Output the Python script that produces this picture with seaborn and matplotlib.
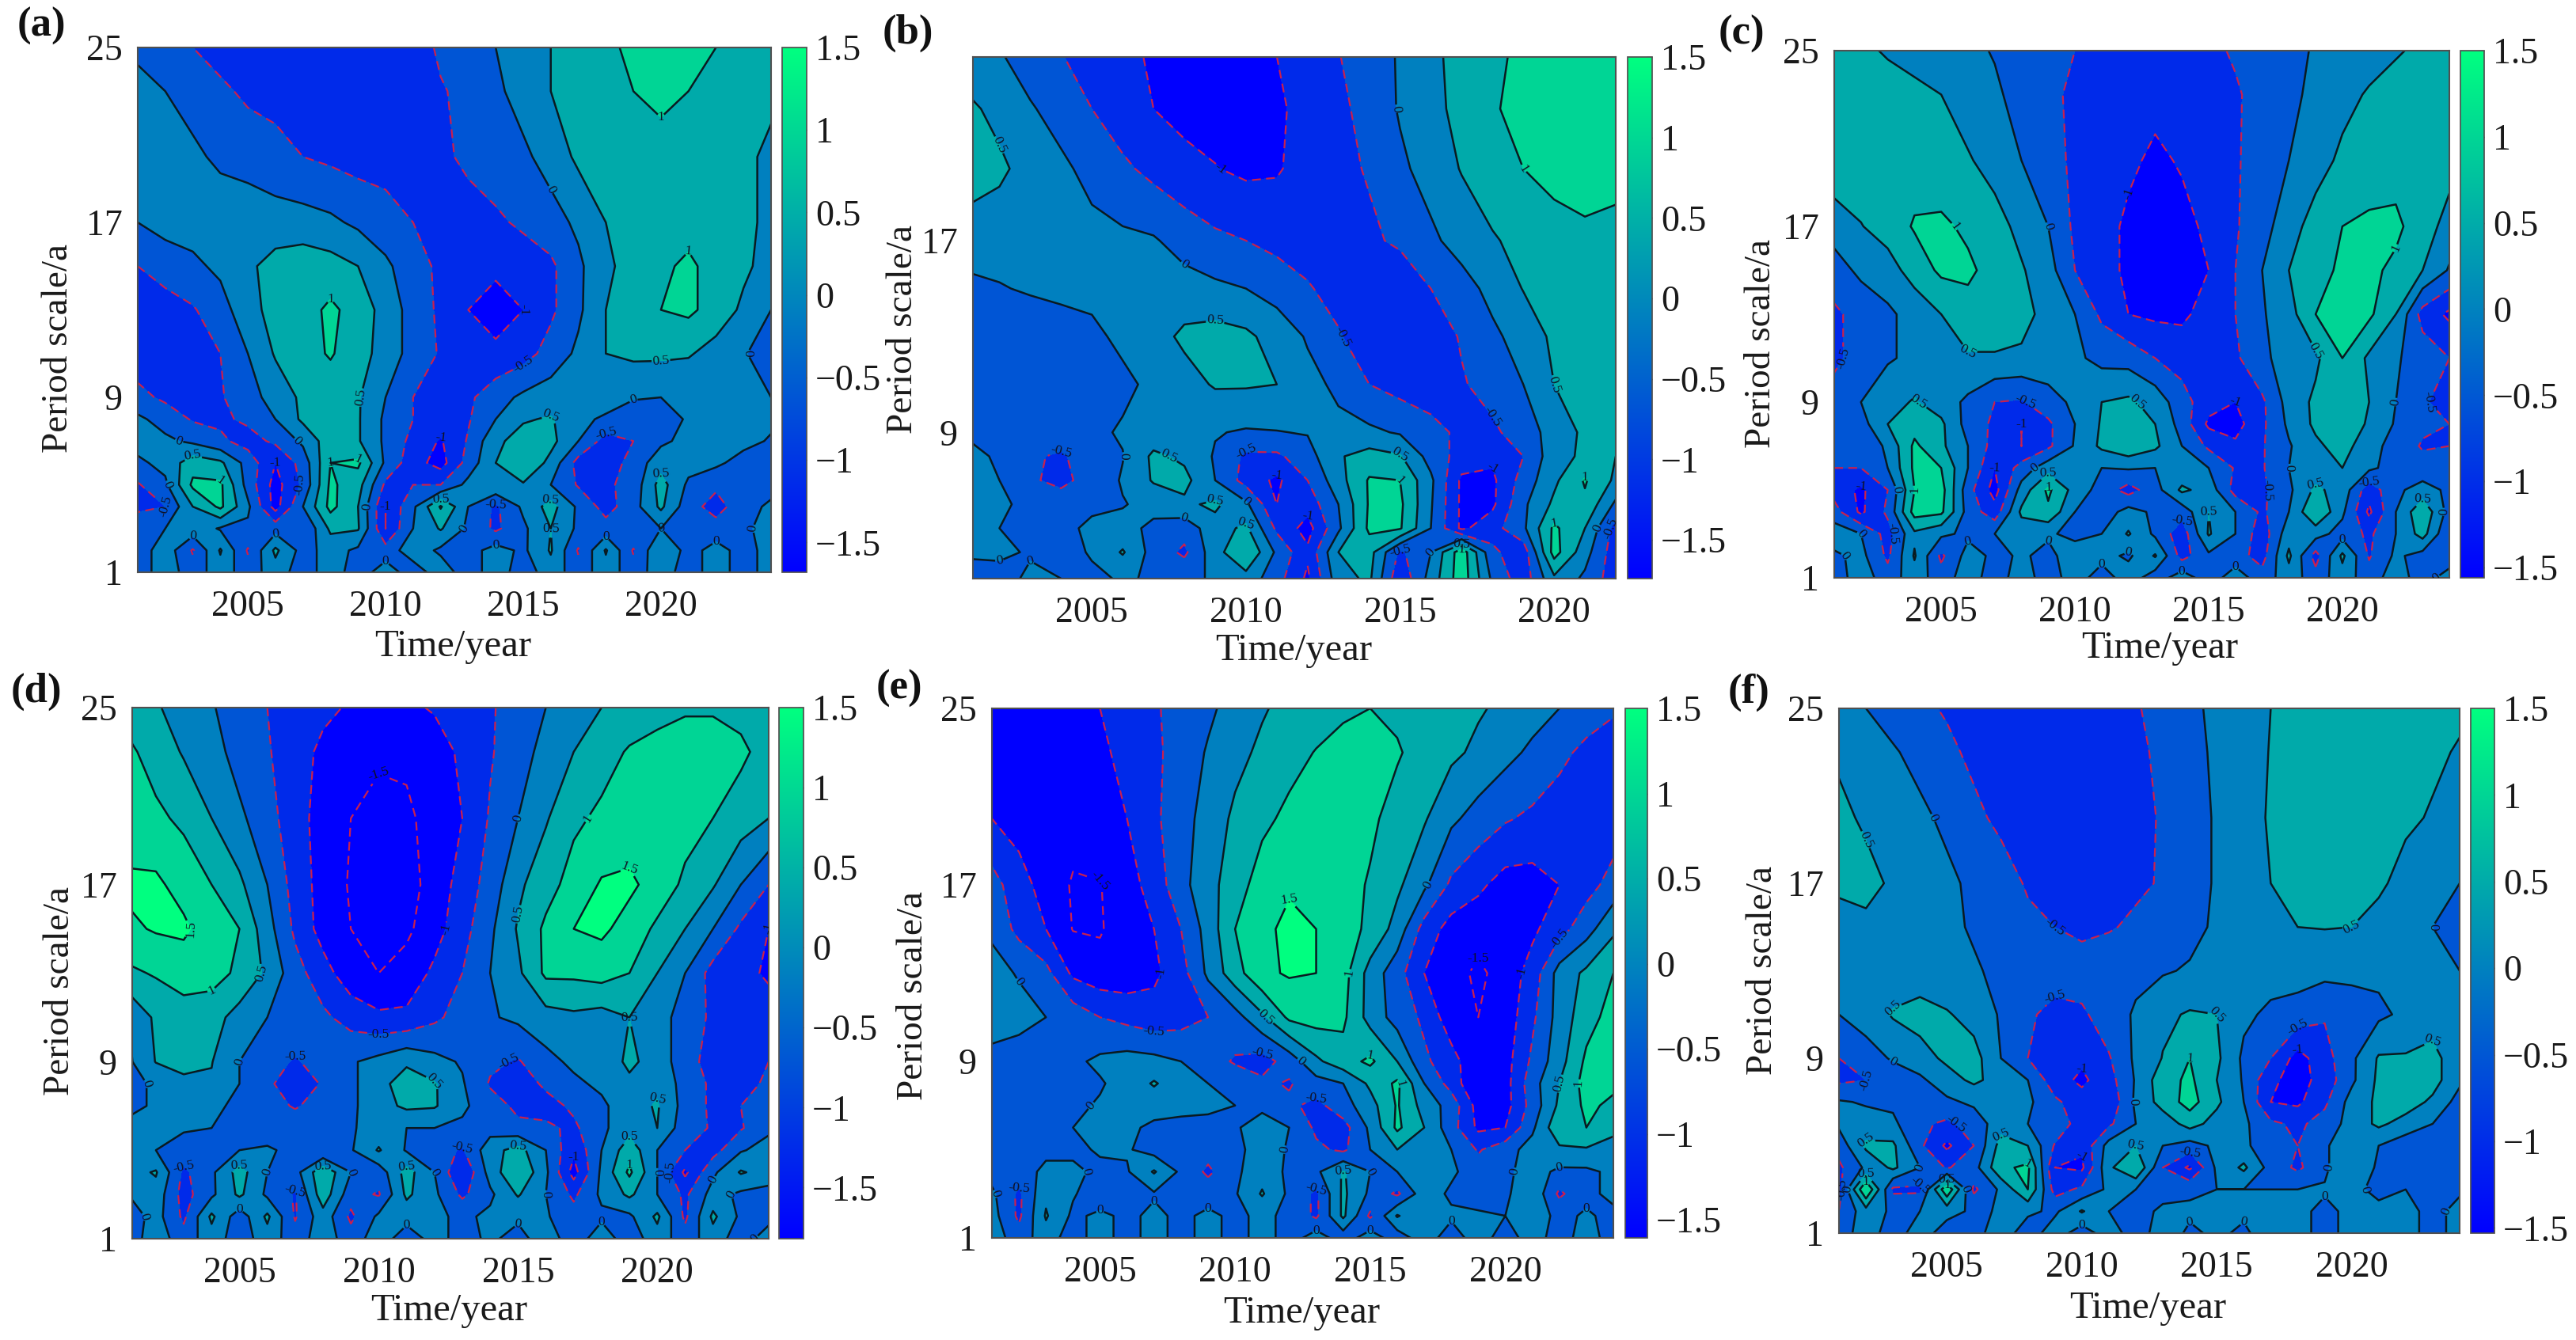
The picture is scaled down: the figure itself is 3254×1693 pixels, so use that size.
import numpy as np
import matplotlib
matplotlib.use("Agg")
import matplotlib.pyplot as plt
from matplotlib.cm import ScalarMappable
from matplotlib.colors import Normalize
import seaborn as sns

sns.set_theme(style="ticks")
plt.rcParams['font.family'] = ['Liberation Serif', 'DejaVu Serif']
plt.rcParams['axes.unicode_minus'] = True

W, H = 3255, 1693

years_full = list(range(2001, 2025))
years_b = list(range(2001, 2023))
periods_full = [1, 2, 3, 4, 5, 6, 7, 8, 9, 11, 13, 15, 17, 20, 23, 25]
periods_b = [2.9, 4, 5, 6, 7, 8, 9, 11, 13, 15, 17, 20, 22.5, 24.7]

# values in tenths, rows go from the smallest period up
grid_a = [
    [-3, 3, -3, 3, -3, 3, -3, 3, -3, 3, -3, 3, -3, 3, -3, 3, -3, 3, -3, 3, -3, 3, -3, 3],
    [-3, 3, -5.5, 5.5, -5.5, 6, -2, 2, -1, -3, 3, -1, -2, 2, -1, 5.5, -5.5, 5.5, -5.5, 5, -2, 2, -2, 2],
    [-2, 0, 3, -.5, -1, -2, -5, 6, 5.5, -10, 0, 5.5, -1, -6, -1, 5, -1, -3, 0, 0, -2, -3, -1, 2],
    [-6, -5, 5, 11, 1, -12, 0, 11.5, 5, -10, -1, 10.5, 0, -6, 1, 7, -1, -7, -2, 6, -3, -7, -2, 1],
    [-5.5, -1, 11, 11, -2, -12, -4, 11, 7, -6, -5, -5, 1.5, 4.5, 4.5, 0, -5.5, -6, -3, 7, -1, -4, -2, -2],
    [-1, 1.5, 8, 6, -2, -10, -3, 10, 11, -1, -8, -12, -3, 5, 9.5, 3.5, -7, -8, -3, 3, 2, 1, -2, -3],
    [2, 1, -1, -4, -7, -4, 1, 8, 5.5, -1, -6.5, -10.5, -4.5, 4, 7, 6.5, 0, -7, -5, -1, 1.5, 3, 1.5, -.5],
    [1, -2, -5.5, -6, -4, 0, 6, 7, 5.5, -1, -5, -7.5, -5.5, 0, 4.5, 5.5, 1.5, -1, -3.5, -2, .5, 2, 3, 1],
    [-3.5, -6, -7, -5.5, -2, 2, 6, 7, 5.5, 0, -5, -7, -6, -2, 1, 2.5, 3, 3, .5, 0, .5, 2, 1, 0],
    [-8, -8, -7, -5, 0, 5.5, 8, 10.5, 7, 3, -2, -5.5, -8, -9, -7, -3, 1, 5, 6, 6, 5.5, 3, .5, -3],
    [-8, -7, -5.5, -2, 3, 7, 8, 11, 8, 3, -2, -6, -10, -12, -10, -6, -1, 5, 8, 10, 11, 8, 4, 0],
    [-5, -3, -1, 1, 4, 7, 8, 7, 5, 1, -3, -6, -8, -9, -8, -6, -1, 4, 7, 9, 11, 8, 6, 3],
    [0, 2, 2, 3, 3, 2, 2, 1, -1, -3, -5, -6, -7, -6, -4, -2, 1, 5, 7, 8, 8, 8, 6, 4],
    [3, 2, 1, -1, -2, -3, -5, -6, -7, -7, -7, -6, -4, -2, -1, 2, 6, 8, 9, 8.5, 8, 7, 6, 4],
    [1.5, 0, -2, -4, -6, -7, -8, -8, -8, -8, -7.5, -5.5, -3.5, -1, 2, 5, 7, 8.5, 10, 11, 10, 9, 7, 6],
    [-1, -3, -5, -7, -8, -8, -8, -8, -8, -8, -8, -4, -3, 0, 3, 5, 7, 9, 11, 12, 12, 10, 8, 7],
]

grid_b = [
    [-3, -2, 1, 0, -1, .5, -.5, -1, .5, 3, -3, -11, 3, 6, -9, 2, 13, -1, -8, 4, -1, -8],
    [1, 1, -.5, -2, .5, 5.5, -2, -6, 3, 10, -1, -9, 5, 7, -6, 0, 13, -4, -8, 12, 2, -8],
    [1, 0, -2, -2, 1.5, 1.5, -1, -3, 3, 6, -6, -12, -1, 11, 10.5, 0, -11, -7, -1, 11, 5, -7],
    [2, 1, -1.5, -3, -1.5, -.3, 1.5, 4, 6, 1, -10, -8, 0, 10.5, 11, .5, -11, -11, -1, 6, 9, -1],
    [1.5, 0, -4.5, -6, -3.5, .5, 5.5, 6.5, 0, -7, -11, -5, 3, 10.5, 10, 1, -11, -11, -3, 4, 10.5, 4],
    [1, -.5, -4.5, -5.5, -3, -.2, 6, 4, -.5, -6, -6, -2, 4.5, 7, 5.5, -2, -7, -9, -5, 3, 6, 5],
    [-.5, -2, -4, -3, -1, .5, 2, 1.5, .3, -.5, -.2, .3, 1.2, 1, -.5, -3.5, -6, -6, -2.5, 2, 6, 6],
    [-3, -3.5, -4.5, -5, -3.5, -1, 1, 3, 5.5, 5.5, 5, 1.5, -1, -5, -7, -7.5, -5.5, -3, 0, 5, 6, 6],
    [-3.5, -3.5, -3, -2, -1, 1, 3, 6, 7, 6, 3, -.5, -4.5, -8, -8, -8, -4.5, -1, 2, 6, 7, 7],
    [-1, -.3, .5, 1, 1.2, 1.5, 2, 2, 1, 0, -2, -4.5, -7, -8.5, -9, -5, -2, 1.5, 5.2, 7, 8, 8],
    [2, 2, 2, 1.5, 1.5, 1, .5, -2, -4, -5, -6.5, -7.5, -8, -6, -4, -1, 2, 4.5, 6.5, 8, 9, 9],
    [8, 6, 3, 1, -1.5, -4, -6.5, -8.5, -9.8, -11, -10.5, -8, -6.5, -4.5, -1, 2, 5.3, 8, 10, 11.5, 12, 11],
    [6, 3.5, .5, -2, -5, -8, -10, -11.5, -12, -12, -11, -8, -6, -3.5, .5, 3.5, 6.5, 9.5, 11.5, 12, 12, 12],
    [2, .5, -2.5, -4.8, -7, -9, -10.5, -11, -11, -11, -10, -8, -5.2, -2.5, .5, 4, 6.5, 9, 11, 12, 12, 12],
]

grid_c = [
    [-3, 3, -3, 3, -3, 3, -3, 3, -3, 3, -3, 3, -3, 3, -3, 3, -3, 3, -3, 3, -3, 3, -3, 3],
    [-1, 1.5, -6, 5.5, -6, 2, -1, .5, -1, 2, 2, -1, 5.5, -7, -1, -3, -7, 6, -7, 6, -5.5, 1, -2, -4],
    [3, 0, -7, 4, 1, -1, 0, 2, .5, -1, 0, 5.5, -1, -8, 5.5, 0, -8, 3, 2, -2, -6, 0, 7, -5],
    [-3, -11, -4, 12, 11, -2, -8, 6, 9, 0, -3, 2, -1, -3, 5, 0, -6, 0, 10, 1, -11, 0, 9, -2],
    [-7, -11, -5, 10, 12, -3, -12, 2, 11, 3, -2, -7, -2, 6, 3, -7, -6, -1, 6, 3, -8, -1, 2, -1],
    [-5, -5, 0, 11, 10, 0, -10, -3, 3, 4.5, 0, .5, 0, 1, 0, -5.5, -5.5, 0, 2, 5, 1, -2, -3, -1],
    [-2.5, -4, 1, 11, 6, 0, -7, -10, -6, .5, 6, 9, 6, 0, -6, -9, -5.5, -.5, 4, 7, 2, -2, -5.5, -5],
    [-4.5, -2, 5, 8, 6, -2, -6, -10, -6, 0, 5.5, 10, 5, -2, -11, -12, -6, 1, 6, 10, 4, -.5, -4, -5],
    [-3, 0, 3, 5.5, 2.5, -1, -5, -5.5, -2, 1, 5, 6, 3, -3, -8, -10, -6, 2, 6, 10, 5, 0, -4, -8],
    [-6, -3, -.5, 1, 3, 4.5, 4.5, 4, 3, 1, -1.5, -2, -5, -7, -7, -6, -.5, 1, 4, 10, 4, .5, -2, -5],
    [-6, -3, -1, 2, 5, 8, 8, 7, 3, 0, -6, -10, -11, -11, -8, -5, -.5, 3, 10, 11, 11, 5, -7, -11],
    [-2, 1, 3, 7, 11, 11, 8, 5.5, 2, -5, -8, -11, -13, -12, -10, -5, 0, 5, 8, 11, 11, 9, 5, -.5],
    [2, 4.8, 7, 10.5, 11, 9, 7, 3.5, 0, -6, -8, -11, -12, -11.5, -9, -5.5, -2, 3, 7, 10, 11, 11, 7.5, 3],
    [9, 8, 8, 7.5, 6.5, 5.5, 3, 0, -3, -6, -8, -9, -11, -9.5, -7.5, -5.5, -3, 0, 3, 6, 7, 8, 7.5, 7],
    [8, 7.5, 7, 6, 5, 2.5, .7, -1.5, -3.8, -6, -8, -8.5, -8.5, -8.5, -7.5, -5.5, -3.5, -1, 1, 3.5, 5.5, 7, 7, 6.5],
    [7, 6, 4.5, 3.5, 2.5, 1, -.3, -2, -3.8, -5, -7, -8, -8, -7.5, -6, -4.5, -3, -1.5, .5, 2, 3, 4.5, 6, 6],
]

grid_d = [
    [-3, 3, -3, 3, -3, 3, -3, 3, -3, 3, -3, 2, -2, 1, -2, 3, -3, 3, -3, 3, -3, 3, -3, 3],
    [-3, 2, -6, 6, -3, 6, -5.5, 3, -6, 1, 2, 1, -1, 1, 1, .5, -3, -1, -1, 6, -6, 6, -1, -2],
    [0, 3, -7, -1, 6, -1, -5.5, 8, -3, -5.5, 6, 1, -6, -1, 5.5, 0, -6, 1, 6, 0, -6, 2, -1, -2],
    [3, 5.5, -6, -1, 7, 0, -2, 9, 0, -3, 7, 0, -10, 2, 10, 1, -12, 1, 11, 0, -11, -1, 5.5, 3],
    [1, 0, -2, -3, 0, .5, -1, -5, -.5, 5.5, -.5, -3, -5.5, 3, 7, 0, -9, 0, 8, 0, -5, -7, -.5, 2],
    [1, 1, .5, 0, -1, -2, -2, -1.5, -.5, 2, 0, 0, -1, -2, -4, -4, -6, -1, 3, 5, -3, -5.5, -5.5, -1],
    [-1, .5, 1.5, 1, -1, -3, -5.5, -3, -1, 3, 6, 5.5, 1, -3, -6, -7, -4, -1, 3, 5.5, -2, -6, -5, -1],
    [-2, 1, 3.5, 4.5, 0, -4, -8, -4.5, -1, 3, 8, 5.5, .5, -5.5, -8, -4, -1, 1, 4, 4, -2, -6, -7, -4],
    [-1, 5.2, 7, 5.2, 0, -3, -5.5, -3, -.5, 1.5, 4, 1.5, -.5, -4, -5.5, -1.5, 1, 2, 6, 3, -3, -7, -8, -5],
    [0, 6, 8, 7, 3, 0, -1, -4, -7, -9, -9, -6, -3, -.5, 1, 3, 4, 3, 5, 2, -2, -6, -7, -7],
    [9, 10.5, 12, 12, 9, 4, -3, -8, -13, -15, -13, -9, -5, 0, 4, 11, 11, 12, 10, 5, 0, -7, -8, -11],
    [14, 15.5, 16, 12, 10, 2, -6, -12, -15, -17, -16, -12, -7, -1, 5.5, 11, 15, 16, 13, 9, 5, 0, -6, -10],
    [16, 16, 13, 10, 6, 0, -7, -12, -15.5, -17, -17, -13, -8, -3, 4, 8, 12, 15.5, 16, 13, 9, 5.5, 0, -5],
    [12, 11, 9, 5, 1, -3, -8, -12, -15, -17, -16, -13, -10, -4.5, 0, 4.5, 9, 11, 12, 12.5, 12, 10, 7.5, 5],
    [11, 8, 4.5, 2, -2, -4.5, -8, -11, -13, -14, -14, -12.5, -9, -5.5, -2, 1.5, 5, 8, 10.5, 11.5, 12, 12, 11, 8],
    [8, 5.5, 3, .5, -3, -5, -7, -9, -10.5, -11, -11, -9.5, -8, -5.5, -3, 0, 3, 5, 7, 8.5, 9.5, 9.5, 8.5, 7],
]

grid_e = [
    [3, -3, 3, -3, 3, -3, 3, -3, 3, -3, 3, -3, 3, -3, 3, -3, 3, -3, 3, -3, 3, -3, 3, -3],
    [2, -6, 5.5, -1, 1, -1, 1, -1, 1, -1, 1, -1, -6, 6, -6, 5.5, 0, 1, 1, 0, 2, -1, .5, -1],
    [1, -6, 4, .5, -3, -1, -.5, -1, -2, -.5, 5.5, -1, -6, 6, -1, -6, 3, -1, -3, -1, 4, -6, -1, 1],
    [-2, -2, 1, 1, -1, -.5, 5.5, -1, -6, -1, 3, -1, -1, 5.5, 0, 0, 2, 1, -3, -1, 2, -1, -1, 1],
    [-3, -3, -1, -1, .5, .5, -2, -4, -3, -3, 5, -1, -4, -6, 0, 5, 3, 0, -5.5, -2, 2, 4, 4.5, 2],
    [-3, -3, -2, 0, 1, 1, -1, -2, -1.5, -.5, 2, 0, -6, -7, 1, 11, 5, -3, -11, -10, -1, 9, 10, 7],
    [-3, -3, -3, -1, .5, 2, 2, 2, 1, 0, -1, -4, -6.5, -2, 3, 10.5, 3, -2, -12, -12, -3, 6, 11, 9],
    [-2, -3, -3, -2.5, -.5, 2, 5.5, 2, 0, -2, -4, -5.5, -2, 0, 6, 11, 0, -7, -15, -12, -2, 5, 12, 11],
    [-2, -3, -2.5, -1, 1, 2, 1.5, 0, -3, -5.5, -7, -3, 4, 8, 11, 5, -4, -8, -14, -12, -4, 3, 11, 12],
    [3, 2, 0, -2, -5, -6.5, -8, -7, -5, -2, 4, 11, 12, 11, 3, -2, -6, -13, -15, -13, -6, 2, 8, 12],
    [2, -.5, -3.5, -11, -13, -13, -11, -7, 1, 8, 14, 15.5, 15, 12, 3, -3, -10, -13, -16, -13, -8, 2, 6, 10],
    [-1, -6.5, -10, -15.2, -15.5, -12, -10, -5, 2, 10, 14, 16, 15, 12, 9, 3, -7, -12, -13, -13, -11, -7, -2, 4],
    [-3, -8, -12, -15.5, -15.2, -12, -8, -1.5, 3, 8, 12, 14.5, 14, 12, 9.5, 6, 1, -6, -9, -12, -12, -10, -7, -3],
    [-10, -12, -13, -13, -12, -10, -6, -2, 2, 6, 9, 11, 12, 12, 11, 8, 5.5, 1, -2, -4.5, -6, -7, -7.5, -8],
    [-13, -13, -13, -12, -11, -8.5, -6, -3, .5, 3.5, 6, 8.5, 10.2, 11, 11.5, 10.5, 8, 6, 4, 1.5, -1, -4, -6, -7],
    [-13, -12.5, -12, -11, -10, -7.5, -5.5, -3.5, -1, 2, 4.5, 6.5, 8, 9.5, 10, 9, 8, 7, 5.5, 4, 2, 0, -3, -4.5],
]

grid_f = [
    [-3, 3, -3, 3, -3, -2, 3, -3, 3, -3, 3, -3, 3, -1, 1, -1, 3, 3, -3, 3, 2, 3, -3, 3],
    [-5, 3, -1, 0, 2, -1, .5, 1, -1, 5.5, 0, -1, .5, 1, 1, 1, 1, 1, -1, 1, 1, 1, -1, 1],
    [-7, 15, -6, -6, 14, -6, 1, 10, -7, -4, 1, 0, -1, -1, 0, 0, 0, 0, .5, 1, -1, 0, 0, -.5],
    [-6, 1, 6, 0, -5.5, -2, 9, 11, -10, -11, 4, 10, -5, -11, 1, 6, -2, -6, -1, 5, -1, -3, -3, -3],
    [-3, 6, 6, -4, -11, -5, 7, 5, -5.5, -9, 2, 5, 0, -2, 1, 1, -3, -5, -1, 5, 0, -3, -3, -2],
    [1, 2, 1, -4, -6, -3, 3, 0, -1, -8, -6, 0, 2, 7, 3, 1, -4, -6, -3, 2, 6, 3, 0, -5],
    [.5, -.5, -1, -3, -1, 1, 3, 1, -4, -8, -9, 1, 7, 12, 6, 0, -10, -11, -6, 2, 6, 7.5, 4, -2],
    [-6, -5, -2.5, -1, 3, 6, 3, 0, -8, -11, -7, .5, 8, 11, 5, -.5, -9, -12, -8, -1, 6, 9, 7, 1],
    [-5, -2, .5, 3, 6, 7, 0, -5, -10, -9, -5.5, 1, 5.2, 10, 6, -1, -5, -12, -7, -1, 5.5, 5.5, 7, 1],
    [0, 2, 5.5, 7, 5.5, 3, -.5, -4, -7, -6, -2, .5, 4, 5.5, 5, 1, -1, -2, -4.5, -2, -1, 1, 2, 2],
    [2, 1.5, 2, 2, 1, .5, -1, -1.5, -2, -2, -1.5, -1, -.5, .5, 1, 1.5, 2, 2, 1.5, 1, 1, .5, .2, 0],
    [3, 3.5, 3, 2, 1, -.5, -2, -4, -5, -6.5, -5.5, -4, -3, -1.5, .8, 2, 3, 5, 5.2, 5, 3, 2, 0, -3],
    [6, 7, 4, 2, 1, -1, -3, -5.5, -7, -7.5, -7, -6, -4.5, -2, .5, 3, 5, 7, 7.5, 7, 6, 3, 1.5, 0],
    [6.5, 4, 2, 1, -1, -4, -6, -7.5, -8, -8, -7.5, -6.5, -4.5, -2, .5, 3, 5.5, 7, 7.5, 7.5, 7, 6, 4.5, 2],
    [4, 2, .5, -1.5, -4, -6, -7.5, -8.5, -9, -8.5, -7.5, -6, -4, -1.5, .8, 3, 5.2, 6.5, 7, 7, 7, 6.5, 6, 4.5],
    [1, 0, -2, -4, -5.5, -7, -8, -8.5, -8.5, -8, -7, -5.5, -3, -1, 1, 3, 5, 6, 7, 7, 7, 7, 7, 6],
]

fill_levels = [-9, -1, -.5, 0, .5, 1, 1.5, 9]
neg_levels = [-1.5, -1, -.5]
pos_levels = [0, .5, 1, 1.5]
tick_years = [2005, 2010, 2015, 2020]
tick_periods = [1, 9, 17, 25]
cbar_ticks = [-1.5, -1, -.5, 0, .5, 1, 1.5]

fill_colors = sns.blend_palette(["#0000ff", "#00ff80"], 7)
bar_cmap = sns.blend_palette(["#0000ff", "#00ff80"], as_cmap=True)

# label, grid, xs, ys, xlim, ylim, axes box (px), cbar box (px), cbar min, ylabel xy, xlabel xy, letter xy
panels = [
    ("(a)", grid_a, years_full, periods_full, (2001, 2024), (1, 25), (174, 60, 974, 723), (988, 1019), -1.68, (74, 440), (572, 817), (52, 33)),
    ("(b)", grid_b, years_b, periods_b, (2001.14, 2022), (2.9, 24.66), (1229, 72, 2041, 731), (2056, 2087), -1.74, (1141, 416), (1634, 822), (1147, 42)),
    ("(c)", grid_c, years_full, periods_full, (2001, 2024), (1, 25), (2317, 64, 3094, 730), (3108, 3138), -1.56, (2225, 434), (2728, 819), (2200, 43)),
    ("(d)", grid_d, years_full, periods_full, (2001.15, 2024), (1, 25), (167, 894, 971, 1565), (984, 1015), -1.82, (76, 1252), (567, 1656), (46, 874)),
    ("(e)", grid_e, years_full, periods_full, (2001, 2024), (1, 25), (1253, 895, 2038, 1564), (2053, 2081), -1.61, (1154, 1258), (1644, 1659), (1136, 870)),
    ("(f)", grid_f, years_full, periods_full, (2001, 2024), (1, 25), (2323, 895, 3107, 1558), (3121, 3151), -1.53, (2227, 1226), (2713, 1653), (2209, 875)),
]


def px_box(x0, y0, x1, y1):
    return [x0 / W, 1 - y1 / H, (x1 - x0) / W, (y1 - y0) / H]


fig = plt.figure(figsize=(W / 100, H / 100), dpi=100, facecolor="white")

for letter, grid, xs, ys, xlim, ylim, box, cbox, cmin, yl_xy, xl_xy, let_xy in panels:
    z = np.array(grid, dtype=float) / 10
    ax = fig.add_axes(px_box(*box))
    ax.contourf(xs, ys, z, levels=fill_levels, colors=fill_colors)
    cn = ax.contour(xs, ys, z, levels=neg_levels, colors="#c8204f", linewidths=1.6, linestyles=[(0, (5, 3))])
    cp = ax.contour(xs, ys, z, levels=pos_levels, colors="#0a1a20", linewidths=1.8, linestyles="solid")
    ax.clabel(cn, fmt="%g", fontsize=12.5, colors="#101020", inline_spacing=1)
    ax.clabel(cp, fmt="%g", fontsize=12.5, colors="#101020", inline_spacing=1)
    ax.set_xlim(xlim)
    ax.set_ylim(ylim)
    ax.set_xticks(tick_years)
    ax.set_yticks([t for t in tick_periods if ylim[0] <= t <= ylim[1]])
    ax.tick_params(direction="in", top=True, right=True, length=6, width=1.2, color="#404040", labelsize=33, labelcolor="#1a1a1a")
    ax.tick_params(axis="x", pad=16)
    ax.tick_params(axis="y", pad=14)
    for sp in ax.spines.values():
        sp.set_color("#505050")
        sp.set_linewidth(1.5)

    cax = fig.add_axes(px_box(cbox[0], box[1], cbox[1], box[3]))
    sm = ScalarMappable(Normalize(cmin, 1.5), bar_cmap)
    cb = fig.colorbar(sm, cax=cax, ticks=cbar_ticks)
    cb.ax.set_yticklabels(["\u22121.5", "\u22121", "\u22120.5", "0", "0.5", "1", "1.5"])
    cb.ax.tick_params(direction="in", length=5, width=1, color="#404040", labelsize=33, pad=8, labelcolor="#1a1a1a")
    cb.outline.set_edgecolor("#505050")

    fig.text(yl_xy[0] / W, 1 - yl_xy[1] / H, "Period scale/a", fontsize=34, rotation=90, ha="center", va="center", color="#1a1a1a")
    fig.text(xl_xy[0] / W, 1 - xl_xy[1] / H, "Time/year", fontsize=35, ha="center", va="center", color="#1a1a1a")
    fig.text(let_xy[0] / W, 1 - let_xy[1] / H, letter, fontsize=38, fontweight="bold", ha="center", va="center", color="#111111")

fig.savefig("out.png", dpi=100, facecolor="white")
